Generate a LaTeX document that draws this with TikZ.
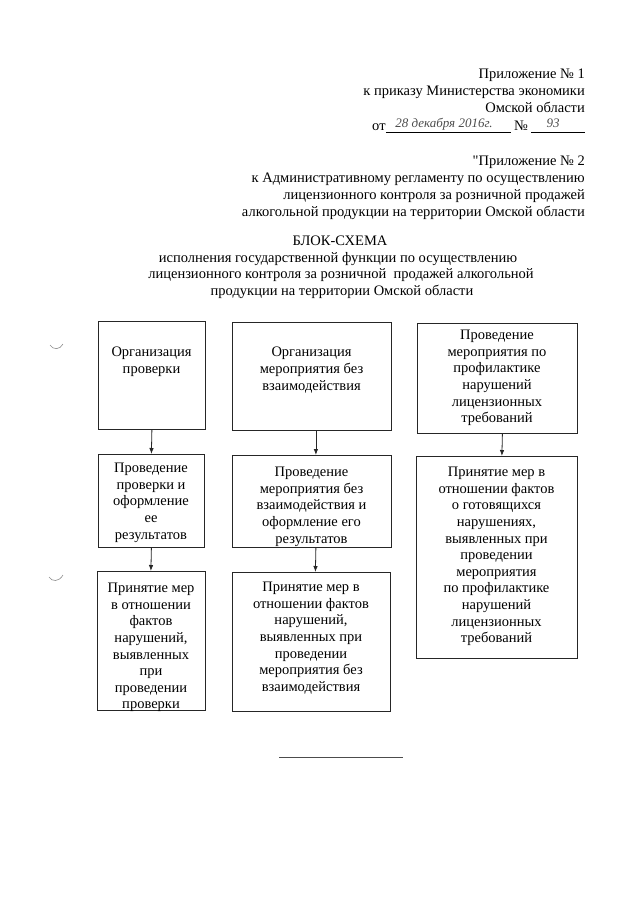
\documentclass[tikz,border=0pt]{standalone}
\usepackage{fontspec}
\setmainfont{Liberation Serif}
\newfontfamily\rawserif{Liberation Serif}[Ligatures=TeXOff]
\usetikzlibrary{arrows.meta}
\begin{document}
\begin{tikzpicture}[x=1pt,y=-1pt,
  box/.style={draw=black!85,line width=0.8pt,inner sep=0pt,anchor=north west},
  txt/.style={align=center,inner sep=0pt,anchor=north,font=\fontsize{14.5}{16.6}\selectfont},
  hdr/.style={inner sep=0pt,anchor=base east,font=\fontsize{14.5}{17}\selectfont},
  ttl/.style={inner sep=0pt,anchor=base,font=\fontsize{14.5}{17}\selectfont},
  hand/.style={inner sep=0pt,anchor=base,text=black!70,font=\fontsize{13}{15}\selectfont\itshape},
  arr/.style={draw=black!85,line width=0.8pt,-{Latex[length=6pt,width=4.5pt]}},
  scanmark/.style={draw=black!45,line width=0.6pt}
]
\path[use as bounding box] (0,0) rectangle (640,905);

% header block 1
\node[hdr] (h1) at (585,78) {Приложение № 1};
\node[hdr] (h2) at (585,95) {к приказу Министерства экономики};
\node[hdr] (h3) at (585,112) {Омской области};
\node[hdr,anchor=base west] (h4) at (372,130) {от};
\draw[line width=0.6pt] (h4.base east) ++(0,2.5) coordinate (u1a) -- ++(125,0) coordinate (u1b);
\node[hand] (d1) at (444,127) {28 декабря 2016г.};
\node[hdr,anchor=base west] (h5) at (514,130) {№};
\draw[line width=0.6pt] (h5.base east) ++(3,2.5) coordinate (u2a) -- (585,132.5) coordinate (u2b);
\node[hand] (d2) at (553,127) {93};

% header block 2
\node[hdr] (g1) at (585,165) {{\rawserif"}Приложение № 2};
\node[hdr] (g2) at (585,182) {к Административному регламенту по осуществлению};
\node[hdr] (g3) at (585,199) {лицензионного контроля за розничной продажей};
\node[hdr] (g4) at (585,216) {алкогольной продукции на территории Омской области};

% title
\node[ttl] (k1) at (340,245) {БЛОК-СХЕМА};
\node[ttl] (k2) at (338,262) {исполнения государственной функции по осуществлению};
\node[ttl] (k3) at (341,278) {лицензионного контроля за розничной\ \ продажей алкогольной};
\node[ttl] (k4) at (342,295) {продукции на территории Омской области};

% boxes
\node[box,minimum width=107pt,minimum height=108pt] (b11) at (98,321) {};
\node[box,minimum width=159pt,minimum height=108pt] (b21) at (232,322) {};
\node[box,minimum width=160pt,minimum height=110pt] (b31) at (417,323) {};
\node[box,minimum width=106pt,minimum height=93pt] (b12) at (98,454) {};
\node[box,minimum width=159pt,minimum height=92pt] (b22) at (232,455) {};
\node[box,minimum width=161pt,minimum height=202pt] (b32) at (416,456) {};
\node[box,minimum width=108pt,minimum height=139pt] (b13) at (97,571) {};
\node[box,minimum width=158pt,minimum height=139pt] (b23) at (232,572) {};

% texts
\node[txt] (t11) at (151.5,347) {Организация\\проверки};
\node[txt] (t21) at (311.5,347) {Организация\\мероприятия без\\взаимодействия};
\node[txt] (t31) at (497,330) {Проведение\\мероприятия по\\профилактике\\нарушений\\лицензионных\\требований};
\node[txt] (t12) at (151,463) {Проведение\\проверки и\\оформление\\ее\\результатов};
\node[txt] (t22) at (311.5,467) {Проведение\\мероприятия без\\взаимодействия и\\оформление его\\результатов};
\node[txt] (t32) at (496.5,467) {Принятие мер в\\отношении фактов\\о готовящихся\\нарушениях,\\выявленных при\\проведении\\мероприятия\\по профилактике\\нарушений\\лицензионных\\требований};
\node[txt] (t13) at (151,583) {Принятие мер\\в отношении\\фактов\\нарушений,\\выявленных\\при\\проведении\\проверки};
\node[txt] (t23) at (311,582) {Принятие мер в\\отношении фактов\\нарушений,\\выявленных при\\проведении\\мероприятия без\\взаимодействия};

% arrows
\draw[arr] (b11.south) -- (b12.north);
\draw[arr] ([xshift=4pt]b21.south) -- ([xshift=4pt]b22.north);
\draw[arr] ([xshift=5pt]b31.south) -- ([xshift=5pt]b32.north);
\draw[arr] (b12.south) -- ([xshift=-0.5pt]b13.north);
\draw[arr] ([xshift=4pt]b22.south) -- ([xshift=4pt]b23.north);

% bottom rule
\draw[line width=0.8pt,black!70] (279,757) -- (403,757);

% margin marks
\draw[scanmark] (50,345) .. controls (53,350) and (60,350) .. (63,344);
\draw[scanmark] (49,577) .. controls (52,582) and (59,582) .. (63,575);
\end{tikzpicture}
\end{document}
